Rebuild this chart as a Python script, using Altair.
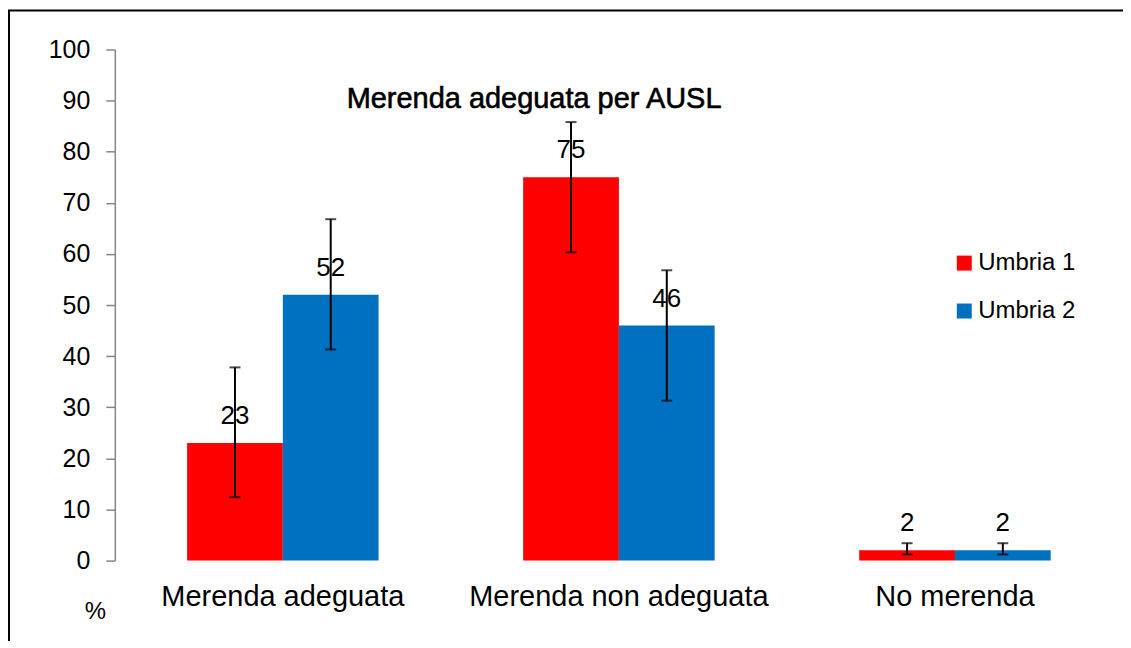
import altair as alt
import pandas as pd

categories = ["Merenda adeguata", "Merenda non adeguata", "No merenda"]
groups = ["Umbria 1", "Umbria 2"]
umbria1 = [23, 75, 2]
umbria2 = [52, 46, 2]
umbria1_low = [12.4, 60.3, 1.2]
umbria1_high = [37.8, 85.8, 3.4]
umbria2_low = [41.3, 31.3, 1.2]
umbria2_high = [66.8, 56.8, 3.4]
y_ticks = [0, 10, 20, 30, 40, 50, 60, 70, 80, 90, 100]
title_text = "Merenda adeguata per AUSL"

rows = []
for i, c in enumerate(categories):
    rows.append({"cat": c, "grp": groups[0], "val": umbria1[i], "lo": umbria1_low[i], "hi": umbria1_high[i]})
    rows.append({"cat": c, "grp": groups[1], "val": umbria2[i], "lo": umbria2_low[i], "hi": umbria2_high[i]})
df = pd.DataFrame(rows)

FONT = "Liberation Sans"
NARROW = "Liberation Sans Narrow, Arial Narrow, Liberation Sans"

x_enc = alt.X(
    "cat:N", sort=categories,
    scale=alt.Scale(paddingInner=0, paddingOuter=0),
    axis=alt.Axis(title=None, labelAngle=0, domain=False, ticks=False,
                  labelFontSize=29, labelFont=FONT, labelColor="black",
                  labelPadding=22, labelLimit=0),
)
xo_enc = alt.XOffset("grp:N", sort=groups,
                     scale=alt.Scale(paddingInner=0, paddingOuter=0.755))
y_scale = alt.Scale(domain=[0, 100], nice=False)

base = alt.Chart(df)

bars = base.mark_bar().encode(
    x=x_enc,
    xOffset=xo_enc,
    y=alt.Y("val:Q", scale=y_scale,
            axis=alt.Axis(values=y_ticks, grid=False, domainColor="#868686",
                          domainWidth=1.5, tickColor="#868686", tickWidth=1.5,
                          tickSize=9, labelFontSize=25, labelFont=FONT,
                          labelColor="black", labelPadding=16,
                          title="%", titleAngle=0, titleX=-20, titleY=563,
                          titleFontSize=24, titleFont=FONT, titleFontWeight="normal",
                          titleAlign="center", titleBaseline="middle",
                          titleColor="black")),
    color=alt.Color("grp:N", sort=groups,
                    scale=alt.Scale(domain=groups, range=["#FF0000", "#0070C0"]),
                    legend=alt.Legend(title=None, orient="none", legendX=839,
                                      legendY=202, symbolType="square",
                                      symbolSize=225, symbolStrokeWidth=0,
                                      labelFontSize=24, labelFont=FONT,
                                      labelColor="black", labelOffset=2,
                                      rowPadding=24, padding=0)),
)

labels = base.mark_text(baseline="alphabetic", dy=-19, fontSize=26,
                        font=NARROW, color="black").encode(
    x=alt.X("cat:N", sort=categories),
    xOffset=alt.XOffset("grp:N", sort=groups),
    y=alt.Y("val:Q"),
    text=alt.Text("val:Q"),
)

err = base.mark_rule(color="black", strokeWidth=2).encode(
    x=alt.X("cat:N", sort=categories),
    xOffset=alt.XOffset("grp:N", sort=groups),
    y=alt.Y("lo:Q"),
    y2="hi:Q",
)
cap_lo = base.mark_tick(color="black", thickness=2, size=11, orient="horizontal").encode(
    x=alt.X("cat:N", sort=categories),
    xOffset=alt.XOffset("grp:N", sort=groups),
    y=alt.Y("lo:Q"),
)
cap_hi = base.mark_tick(color="black", thickness=2, size=11, orient="horizontal").encode(
    x=alt.X("cat:N", sort=categories),
    xOffset=alt.XOffset("grp:N", sort=groups),
    y=alt.Y("hi:Q"),
)

one = alt.Chart(pd.DataFrame({"t": [title_text]}))
title = one.mark_text(fontSize=29, font=FONT, fontWeight="normal", color="black",
                      stroke="black", strokeWidth=0.6,
                      align="center", baseline="alphabetic").encode(
    x=alt.value(420), y=alt.value(59), text="t:N")

frame_left = one.mark_rule(color="black", strokeWidth=2).encode(
    x=alt.value(-106), y=alt.value(-39), y2=alt.value(700))
frame_top = one.mark_rule(color="black", strokeWidth=2).encode(
    x=alt.value(-107), x2=alt.value(1200), y=alt.value(-39))

chart = alt.layer(bars, labels, err, cap_lo, cap_hi, title, frame_left, frame_top).properties(
    width=1010, height=512,
    background="white",
    autosize=alt.AutoSizeParams(type="none"),
    padding={"left": 107, "top": 41, "right": 0, "bottom": 80},
).configure_view(stroke=None)

chart.save("out.html", embed_options={"renderer": "svg", "actions": False})
